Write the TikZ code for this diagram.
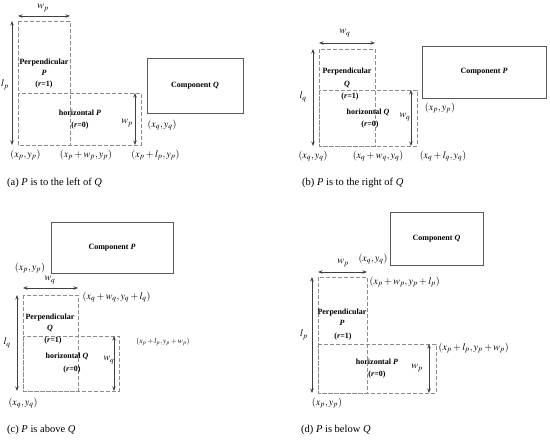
\documentclass[tikz,border=0pt]{standalone}
\usepackage{mathptmx}
\usepackage{fontspec}
\setmainfont{Liberation Serif}
\usetikzlibrary{arrows.meta}
\begin{document}
\begin{tikzpicture}[x=1pt,y=-1pt,
 dbox/.style={draw=gray!90,dash pattern=on 4pt off 2pt,line width=1pt},
 comp/.style={draw=gray!70!black,line width=1pt,inner sep=0pt,font=\fontsize{8}{9}\selectfont\bfseries},
 dim/.style={draw=black!75,line width=1pt,{Stealth[length=4.5pt,width=3.5pt]}-{Stealth[length=4.5pt,width=3.5pt]}},
 bl/.style={font=\fontsize{8}{9}\selectfont\bfseries,inner sep=0.5pt},
 ml/.style={font=\fontsize{10}{11}\selectfont,inner sep=0.5pt},
 sl/.style={font=\fontsize{7.5}{8}\selectfont,inner sep=0.5pt},
 captext/.style={font=\fontsize{10.5}{12}\selectfont,anchor=west,inner sep=0pt}]
\useasboundingbox (0,0) rectangle (550,440);
% ---------------- (a)
\draw[dbox] (18,21) rectangle (70,145);
\draw[dbox] (18,93) rectangle (141,145);
\coordinate (a1) at (18,16); \coordinate (a2) at (70,16);
\draw[dim] (a1) -- (a2);
\node[ml] (awp) at (43,8) {$w_p$};
\coordinate (a3) at (12,21); \coordinate (a4) at (12,145);
\draw[dim] (a3) -- (a4);
\node[ml] (alp) at (5,85) {$l_p$};
\coordinate (a5) at (135,93); \coordinate (a6) at (135,145);
\draw[dim] (a5) -- (a6);
\node[ml] (awp2) at (127,123) {$w_p$};
\node[bl] (aper) at (44,63) {Perpendicular};
\node[bl] (aP) at (44,73) {\textit{P}};
\node[bl] (ar1) at (44,85) {(\textit{r}=1)};
\node[bl] (ahor) at (80,113) {horizontal \textit{P}};
\node[bl] (ar0) at (80,126) {(\textit{r}=0)};
\node[comp,minimum width=96pt,minimum height=55pt] (aQ) at (195,85.5) {Component \textit{Q}};
\node[ml] (axq) at (162,125) {$(x_q, y_q)$};
\node[ml] (ab1) at (25.5,155) {$(x_p, y_p)$};
\node[ml] (ab2) at (86,155) {$(x_p+w_p, y_p)$};
\node[ml] (ab3) at (155.5,155) {$(x_p+l_p, y_p)$};
\node[captext] (acap) at (7,183) {(a) \textit{P} is to the left of \textit{Q}};
% ---------------- (b)
\draw[dbox] (319,49) rectangle (375,146);
\draw[dbox] (319,90) rectangle (417,146);
\coordinate (b1) at (319,43); \coordinate (b2) at (375,43);
\draw[dim] (b1) -- (b2);
\node[ml] (bwq) at (345,33) {$w_q$};
\coordinate (b3) at (313,49); \coordinate (b4) at (313,146);
\draw[dim] (b3) -- (b4);
\node[ml] (blq) at (303,97) {$l_q$};
\coordinate (b5) at (411,90); \coordinate (b6) at (411,146);
\draw[dim] (b5) -- (b6);
\node[ml] (bwq2) at (405,117) {$w_q$};
\node[bl] (bper) at (347,72) {Perpendicular};
\node[bl] (bQ) at (347,84) {\textit{Q}};
\node[bl] (br1) at (350,97) {(\textit{r}=1)};
\node[bl] (bhor) at (368,112) {horizontal \textit{Q}};
\node[bl] (br0) at (370,125) {(\textit{r}=0)};
\node[comp,minimum width=124pt,minimum height=52pt] (bP) at (484,72) {Component \textit{P}};
\node[ml] (bxp) at (440,108) {$(x_p, y_p)$};
\node[ml] (bb1) at (313,156) {$(x_q, y_q)$};
\node[ml] (bb2) at (378,156) {$(x_q+w_q, y_q)$};
\node[ml] (bb3) at (443,156) {$(x_q+l_q, y_q)$};
\node[captext] (bcap) at (302,183) {(b) \textit{P} is to the right of \textit{Q}};
% ---------------- (c)
\node[comp,minimum width=122pt,minimum height=51pt] (cP) at (112,247.5) {Component \textit{P}};
\node[ml] (cxp) at (30,268) {$(x_p, y_p)$};
\draw[dbox] (23,295) rectangle (78,391);
\draw[dbox] (23,336) rectangle (119,391);
\coordinate (c1) at (23,288); \coordinate (c2) at (78,288);
\draw[dim] (c1) -- (c2);
\node[ml] (cwq) at (50,280) {$w_q$};
\coordinate (c3) at (17,295); \coordinate (c4) at (17,391);
\draw[dim] (c3) -- (c4);
\node[ml] (clq) at (7,343) {$l_q$};
\coordinate (c5) at (114,336); \coordinate (c6) at (114,391);
\draw[dim] (c5) -- (c6);
\node[ml] (cwq2) at (109,360) {$w_q$};
\node[ml,anchor=west] (ctr) at (82,297) {$(x_q+w_q, y_q+l_q)$};
\node[sl] (cmid) at (163,342) {$(x_p+l_p, y_p+w_p)$};
\node[bl] (cper) at (50,318) {Perpendicular};
\node[bl] (cQ) at (50,328) {\textit{Q}};
\node[bl] (cr1) at (53,341) {(\textit{r}=1)};
\node[bl] (chor) at (67,356) {horizontal \textit{Q}};
\node[bl] (cr0) at (72,370) {(\textit{r}=0)};
\node[ml] (cb1) at (23,403) {$(x_q, y_q)$};
\node[captext] (ccap) at (7,430) {(c) \textit{P} is above \textit{Q}};
% ---------------- (d)
\node[comp,minimum width=93pt,minimum height=53pt] (dQ) at (436.5,238.5) {Component \textit{Q}};
\node[ml] (dxq) at (373,259) {$(x_q, y_q)$};
\draw[dbox] (318,277) rectangle (367,393);
\draw[dbox] (318,344) rectangle (436,393);
\coordinate (d1) at (318,272); \coordinate (d2) at (367,272);
\draw[dim] (d1) -- (d2);
\node[ml] (dwp) at (343,263) {$w_p$};
\coordinate (d3) at (312,277); \coordinate (d4) at (312,393);
\draw[dim] (d3) -- (d4);
\node[ml] (dlp) at (304,335) {$l_p$};
\coordinate (d5) at (429,344); \coordinate (d6) at (429,393);
\draw[dim] (d5) -- (d6);
\node[ml] (dwp2) at (417,368) {$w_p$};
\node[ml,anchor=west] (dtr) at (369,282) {$(x_p+w_p, y_p+l_p)$};
\node[ml,anchor=west] (dmid) at (438,348) {$(x_p+l_p, y_p+w_p)$};
\node[bl] (dper) at (342,313) {Perpendicular};
\node[bl] (dP) at (342,323) {\textit{P}};
\node[bl] (dr1) at (343,337) {(\textit{r}=1)};
\node[bl] (dhor) at (377,362) {horizontal \textit{P}};
\node[bl] (dr0) at (377,375) {(\textit{r}=0)};
\node[ml] (db1) at (327,403) {$(x_p, y_p)$};
\node[captext] (dcap) at (301,430) {(d) \textit{P} is below \textit{Q}};
\end{tikzpicture}
\end{document}
